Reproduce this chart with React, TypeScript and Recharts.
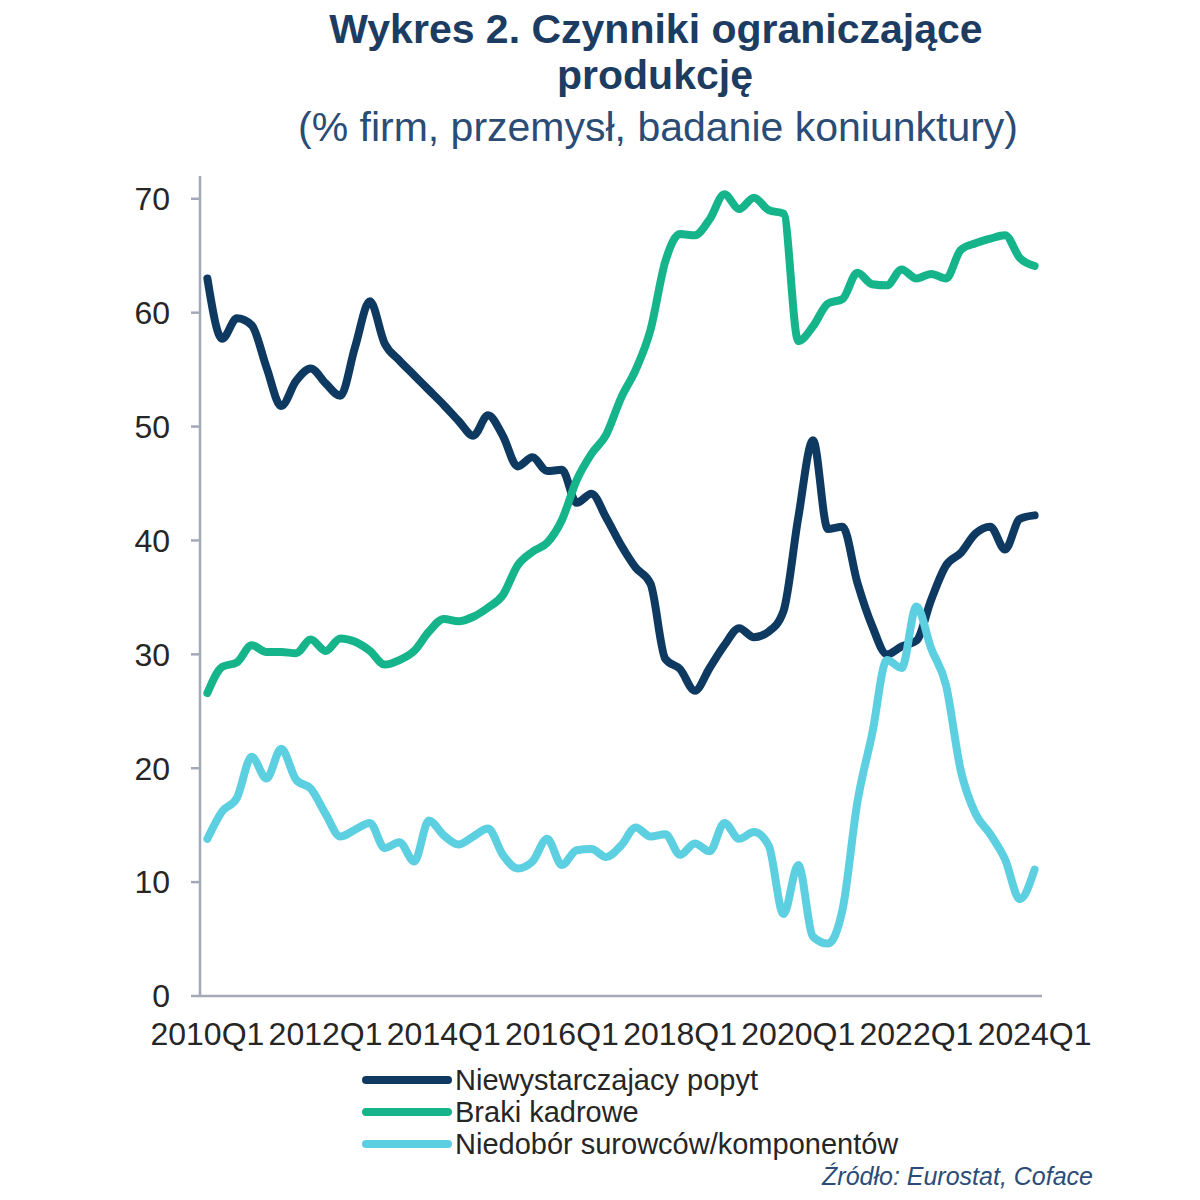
import { Line, LineChart, XAxis, YAxis } from "recharts";

const FONT = '"Liberation Sans", Arial, sans-serif';
const AXIS = "#a3a9b7";
const TEXT = "#262626";

// 2010Q1 .. 2024Q1
const quarters = Array.from({ length: 57 }, (_, i) => `${2010 + Math.floor(i / 4)}Q${(i % 4) + 1}`);
const xTickIdx = [0, 8, 16, 24, 32, 40, 48, 56];
const yTicks = [0, 10, 20, 30, 40, 50, 60, 70];

const niewystarczajacyPopyt = [
  63.0, 57.7, 59.5, 58.9, 55.2, 51.8, 54.0, 55.1, 53.8, 52.7,
  57.0, 61.0, 57.3, 55.8, 54.5, 53.2, 51.9, 50.5, 49.2, 51.0,
  49.2, 46.5, 47.3, 46.1, 46.2, 43.3, 44.1, 42.0, 39.6, 37.6,
  36.2, 29.6, 28.7, 26.8, 28.8, 30.8, 32.3, 31.5, 32.0, 33.8,
  42.0, 48.8, 41.0, 41.2, 36.3, 32.5, 30.0, 30.7, 31.2, 34.8,
  37.8, 38.9, 40.6, 41.2, 39.2, 41.9, 42.2,
];
const brakiKadrowe = [
  26.6, 28.9, 29.3, 30.8, 30.2, 30.2, 30.1, 31.3, 30.3, 31.4,
  31.1, 30.3, 29.1, 29.5, 30.3, 32.0, 33.1, 32.9, 33.3, 34.1,
  35.2, 37.8, 39.0, 39.8, 41.8, 45.3, 47.6, 49.3, 52.5, 55.0,
  58.5, 64.5, 66.9, 66.8, 68.2, 70.4, 69.1, 70.1, 69.0, 68.7,
  57.5, 58.8, 60.8, 61.2, 63.5, 62.5, 62.4, 63.8, 63.0, 63.4,
  63.0, 65.5, 66.1, 66.5, 66.8, 64.8, 64.1,
];
const niedoborSurowcow = [
  13.8, 16.2, 17.4, 21.0, 19.1, 21.7, 19.0, 18.2, 16.0, 14.0,
  14.6, 15.2, 13.0, 13.5, 11.8, 15.4, 14.1, 13.3, 14.0, 14.7,
  12.4, 11.2, 11.8, 13.8, 11.5, 12.8, 12.9, 12.2, 13.2, 14.8,
  14.0, 14.2, 12.4, 13.4, 12.7, 15.2, 13.8, 14.4, 13.2, 7.2,
  11.5, 5.2, 4.6, 7.6, 17.0, 23.0, 29.5, 28.8, 34.2, 30.5,
  27.3, 19.8, 16.0, 14.2, 12.0, 8.5, 11.1,
];

const series = [
  { key: "popyt", name: "Niewystarczajacy popyt", color: "#0e3a62", values: niewystarczajacyPopyt },
  { key: "kadry", name: "Braki kadrowe", color: "#15b48b", values: brakiKadrowe },
  { key: "surowce", name: "Niedobór surowców/komponentów", color: "#5ccfe0", values: niedoborSurowcow },
];

const data = quarters.map((q, i) => {
  const row: Record<string, number | string> = { idx: i, quarter: q };
  series.forEach((s) => {
    row[s.key] = s.values[i];
  });
  return row;
});

// tick marks sit between categories
const bandEdges = quarters.map((_, i) => i - 0.5).concat(quarters.length - 0.5);
const xDomain = [-0.5, quarters.length - 0.5];

export default function App() {
  return (
    <div
      style={{
        position: "absolute",
        left: 0,
        top: 0,
        width: 1200,
        height: 1200,
        background: "#fff",
        fontFamily: FONT,
      }}
    >
      <div style={{ position: "absolute", top: 9, left: 0, width: 1312, textAlign: "center", fontSize: 41, lineHeight: "41px", fontWeight: 700, color: "#1c3c62" }}>
        Wykres 2. Czynniki ograniczające
      </div>
      <div style={{ position: "absolute", top: 55, left: 0, width: 1310, textAlign: "center", fontSize: 41, lineHeight: "41px", fontWeight: 700, color: "#1c3c62" }}>
        produkcję
      </div>
      <div style={{ position: "absolute", top: 107, left: 0, width: 1316, textAlign: "center", fontSize: 41, lineHeight: "41px", color: "#2b4c75" }}>
        (% firm, przemysł, badanie koniunktury)
      </div>

      <div style={{ position: "absolute", left: 0, top: 0 }}>
        <LineChart
          width={1200}
          height={1060}
          data={data}
          margin={{ top: 176, right: 158, bottom: 62, left: 0 }}
          style={{ fontFamily: FONT }}
        >
          <XAxis
            xAxisId="edges"
            type="number"
            dataKey="idx"
            domain={xDomain}
            allowDataOverflow
            ticks={bandEdges}
            interval={0}
            tick={false}
            tickSize={10}
            height={1}
            axisLine={{ stroke: AXIS, strokeWidth: 2.5 }}
            tickLine={{ stroke: AXIS, strokeWidth: 2.5 }}
          />
          <XAxis
            xAxisId="labels"
            type="number"
            dataKey="idx"
            domain={xDomain}
            allowDataOverflow
            ticks={xTickIdx}
            interval={0}
            tickFormatter={(v) => quarters[v]}
            axisLine={false}
            tickLine={false}
            tickSize={9}
            tickMargin={16}
            height={1}
            tick={{ fontSize: 32, fill: TEXT }}
          />
          <YAxis
            domain={[0, 72]}
            ticks={yTicks}
            interval={0}
            width={200}
            tickSize={9}
            tickMargin={21}
            axisLine={{ stroke: AXIS, strokeWidth: 2.5 }}
            tickLine={{ stroke: AXIS, strokeWidth: 2.5 }}
            tick={{ fontSize: 32, fill: TEXT }}
          />
          {series.map((s) => (
            <Line
              key={s.key}
              xAxisId="labels"
              type="monotone"
              dataKey={s.key}
              name={s.name}
              stroke={s.color}
              strokeWidth={8}
              strokeLinejoin="round"
              strokeLinecap="round"
              dot={false}
              activeDot={false}
              isAnimationActive={false}
            />
          ))}
        </LineChart>
      </div>

      {series.map((s, i) => (
        <div
          key={s.key}
          style={{
            position: "absolute",
            left: 362,
            top: 1064 + i * 32,
            height: 32,
            display: "flex",
            alignItems: "center",
            whiteSpace: "nowrap",
          }}
        >
          <div style={{ width: 90, height: 8, borderRadius: 4, background: s.color }} />
          <span style={{ marginLeft: 3, fontSize: 29, color: TEXT }}>{s.name}</span>
        </div>
      ))}

      <div
        style={{
          position: "absolute",
          right: 107,
          top: 1161,
          fontSize: 25,
          lineHeight: "30px",
          fontStyle: "italic",
          color: "#2b4c78",
        }}
      >
        Źródło: Eurostat, Coface
      </div>
    </div>
  );
}
